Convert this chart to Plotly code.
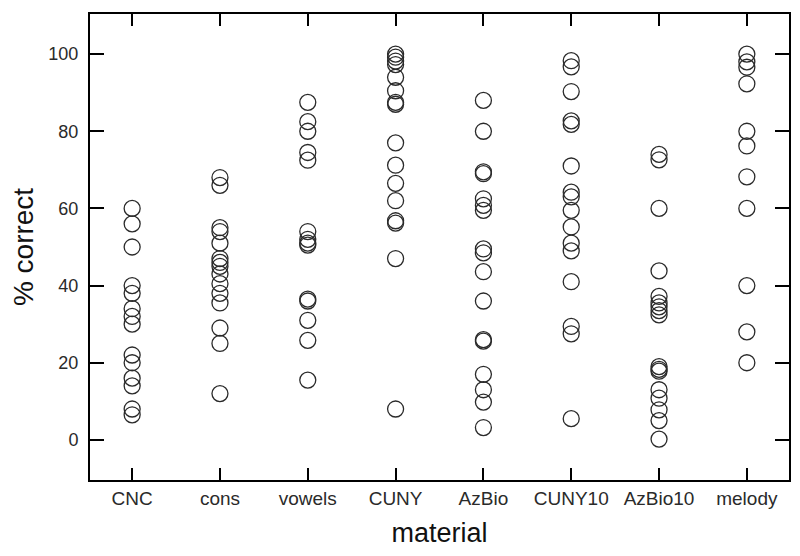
import plotly.graph_objects as go

categories = ["CNC", "cons", "vowels", "CUNY", "AzBio", "CUNY10", "AzBio10", "melody"]

cnc = [60, 56, 50, 40, 38, 34, 32, 30, 22, 20, 16, 14, 8, 6.5]
cons = [68, 66, 55, 54, 51, 47, 46, 45, 43, 40.5, 38, 35.5, 29, 25, 12]
vowels = [87.5, 82.5, 80, 74.5, 72.5, 54, 52, 51, 50.5, 36.5, 36, 31, 25.8, 15.5]
cuny = [100, 99.2, 98.2, 97.3, 94, 90.5, 87.5, 87, 77, 71.2, 66.5, 62, 56.8, 56.2, 47, 8]
azbio = [88, 80, 69.5, 69, 62.5, 60.8, 59.5, 49.5, 48.5, 43.6, 36, 26, 25.6, 17, 13, 9.8, 3.2]
cuny10 = [98.3, 96.7, 90.3, 82.7, 81.8, 71, 64.2, 63, 59.5, 55.2, 51, 49, 41, 29.4, 27.5, 5.5]
azbio10 = [74, 72.6, 60, 43.8, 37.2, 35.5, 34.5, 33.5, 32.4, 19, 18.3, 17.8, 13, 10.8, 7.8, 5, 0.2]
melody = [100, 98, 96.6, 92.3, 80, 76.2, 68.2, 60, 40, 28, 20]

series = [cnc, cons, vowels, cuny, azbio, cuny10, azbio10, melody]

xs, ys = [], []
for cat, vals in zip(categories, series):
    xs += [cat] * len(vals)
    ys += vals

fig = go.Figure(go.Scatter(
    x=xs, y=ys, mode="markers",
    marker=dict(symbol="circle-open", size=16, color="#2a2a2a",
                line=dict(width=1.3, color="#2a2a2a")),
    showlegend=False,
))

font_family = "Liberation Sans, Arial, sans-serif"

# page body has an 8px margin, so the figure is sized to fit the window
fig.update_layout(
    width=792, height=548,
    margin=dict(l=82, r=11, t=4, b=76),
    paper_bgcolor="white", plot_bgcolor="white",
    font=dict(family=font_family, color="#1a1a1a"),
)

fig.update_xaxes(
    type="category", categoryorder="array", categoryarray=categories,
    range=[-0.48, 7.48],
    showline=True, linecolor="black", linewidth=2, mirror="allticks",
    ticks="inside", ticklen=12, tickwidth=1.5, tickcolor="black",
    showgrid=False, zeroline=False,
    tickfont=dict(size=19, color="#2a2a2a"),
    title=dict(text="material", font=dict(size=27, color="#111"), standoff=15),
)
fig.update_yaxes(
    range=[-10.4, 110.4],
    tickvals=[0, 20, 40, 60, 80, 100],
    showline=True, linecolor="black", linewidth=2, mirror="allticks",
    ticks="inside", ticklen=14, tickwidth=1.5, tickcolor="black",
    showgrid=False, zeroline=False,
    ticklabelstandoff=6,
    tickfont=dict(size=18, color="#2a2a2a"),
    title=dict(text="% correct", font=dict(size=28, color="#111"), standoff=12),
)

fig.write_html("out.html")
